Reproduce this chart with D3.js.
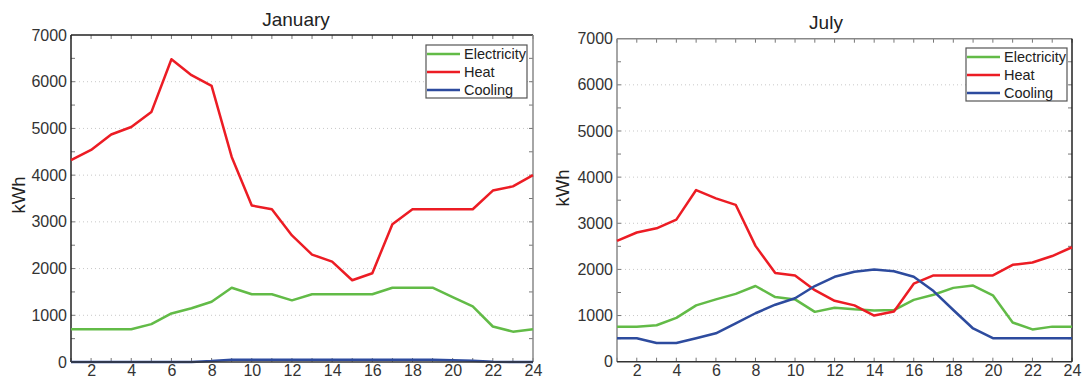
<!DOCTYPE html>
<html>
<head>
<meta charset="utf-8">
<script src="https://cdn.jsdelivr.net/npm/d3@7"></script>
<style>
  body { margin: 0; background: #fff; }
  svg { display: block; font-family: "Liberation Sans", Arial, sans-serif; }
</style>
</head>
<body>
<div id="chart"></div>
<script>
// hours of the day
const hours = d3.range(1, 25);
const xTicks = [2, 4, 6, 8, 10, 12, 14, 16, 18, 20, 22, 24];
const yTicks = [0, 1000, 2000, 3000, 4000, 5000, 6000, 7000];

// January (kWh)
const janElectricity = [700, 700, 700, 700, 810, 1040, 1150, 1290, 1590, 1450, 1450, 1320,
  1450, 1450, 1450, 1450, 1590, 1590, 1590, 1390, 1190, 760, 650, 700];
const janHeat = [4320, 4540, 4870, 5030, 5350, 6480, 6140, 5910, 4390, 3350, 3270, 2710,
  2300, 2150, 1750, 1900, 2950, 3270, 3270, 3270, 3270, 3670, 3760, 4000];
const janCooling = [0, 0, 0, 0, 0, 0, 0, 20, 50, 50, 50, 50,
  50, 50, 50, 50, 50, 50, 50, 40, 25, 5, 0, 0];

// July (kWh)
const julElectricity = [760, 760, 790, 950, 1220, 1350, 1470, 1640, 1400, 1350, 1080, 1170,
  1135, 1110, 1120, 1340, 1450, 1600, 1650, 1440, 850, 700, 760, 760];
const julHeat = [2620, 2800, 2890, 3080, 3720, 3540, 3400, 2510, 1920, 1870, 1550, 1320,
  1220, 1000, 1090, 1690, 1870, 1870, 1870, 1870, 2100, 2150, 2290, 2480];
const julCooling = [510, 510, 405, 405, 510, 615, 830, 1050, 1235, 1375, 1640, 1840,
  1950, 2000, 1960, 1840, 1530, 1120, 720, 510, 510, 510, 510, 510];

const seriesNames = ["Electricity", "Heat", "Cooling"];
const colors = { Electricity: "#62bb47", Heat: "#ec1c24", Cooling: "#2d4b9e" };

const svg = d3.select("#chart").append("svg")
  .attr("width", 1082)
  .attr("height", 381);

function drawPanel(cfg) {
  const x = d3.scaleLinear().domain([1, 24]).range([cfg.left, cfg.right]);
  const y = d3.scaleLinear().domain([0, 7000]).range([cfg.bottom, cfg.top]);
  const g = svg.append("g");

  // dotted grid
  g.selectAll("line.grid")
    .data(yTicks.filter(d => d > 0 && d < 7000))
    .enter().append("line")
    .attr("x1", cfg.left).attr("x2", cfg.right)
    .attr("y1", d => y(d)).attr("y2", d => y(d))
    .attr("stroke", "#c8c8c8")
    .attr("stroke-dasharray", "1,3");

  // minor inward ticks on all sides
  const minorY = d3.range(500, 7000, 500);
  g.selectAll("line.ty").data(minorY).enter().append("line")
    .attr("x1", cfg.right).attr("x2", cfg.right - 4)
    .attr("y1", d => y(d)).attr("y2", d => y(d))
    .attr("stroke", "#777");
  g.selectAll("line.tyl").data(minorY).enter().append("line")
    .attr("x1", cfg.left).attr("x2", cfg.left + 4)
    .attr("y1", d => y(d)).attr("y2", d => y(d))
    .attr("stroke", "#777");
  g.selectAll("line.tx").data(hours).enter().append("line")
    .attr("x1", d => x(d)).attr("x2", d => x(d))
    .attr("y1", cfg.top).attr("y2", cfg.top + 4)
    .attr("stroke", "#777");
  g.selectAll("line.txb").data(hours).enter().append("line")
    .attr("x1", d => x(d)).attr("x2", d => x(d))
    .attr("y1", cfg.bottom).attr("y2", cfg.bottom - 4)
    .attr("stroke", "#777");

  // frame
  g.append("line").attr("x1", cfg.left).attr("x2", cfg.right)
    .attr("y1", cfg.top).attr("y2", cfg.top)
    .attr("stroke", cfg.topColor).attr("stroke-width", 1.5);
  g.append("line").attr("x1", cfg.right).attr("x2", cfg.right)
    .attr("y1", cfg.top).attr("y2", cfg.bottom)
    .attr("stroke", cfg.rightColor).attr("stroke-width", 1.5);
  g.append("line").attr("x1", cfg.left).attr("x2", cfg.left)
    .attr("y1", cfg.top).attr("y2", cfg.bottom)
    .attr("stroke", cfg.leftColor).attr("stroke-width", 1.5);

  // series
  const line = d3.line().x((d, i) => x(hours[i])).y(d => y(d));
  cfg.series.forEach((vals, i) => {
    g.append("path")
      .datum(vals)
      .attr("d", line)
      .attr("fill", "none")
      .attr("stroke", colors[seriesNames[i]])
      .attr("stroke-width", 2.5)
      .attr("stroke-linejoin", "round");
  });

  // bottom axis line drawn over the series
  g.append("line").attr("x1", cfg.left).attr("x2", cfg.right)
    .attr("y1", cfg.bottom).attr("y2", cfg.bottom)
    .attr("stroke", "#333").attr("stroke-width", 1.5);

  // axes (labels only)
  const yAxis = g.append("g")
    .attr("transform", `translate(${cfg.left},0)`)
    .call(d3.axisLeft(y).tickValues(yTicks).tickSize(0).tickPadding(4).tickFormat(d3.format("d")));
  yAxis.select(".domain").remove();
  yAxis.selectAll("text").attr("font-size", 16).attr("fill", "#333")
    .attr("font-family", "Liberation Sans, Arial, sans-serif");

  const xAxis = g.append("g")
    .attr("transform", `translate(0,${cfg.bottom})`)
    .call(d3.axisBottom(x).tickValues(xTicks).tickSize(0).tickPadding(3).tickFormat(d3.format("d")));
  xAxis.select(".domain").remove();
  xAxis.selectAll("text").attr("font-size", 16).attr("fill", "#333")
    .attr("font-family", "Liberation Sans, Arial, sans-serif");

  // title
  g.append("text")
    .attr("x", cfg.titleX).attr("y", cfg.titleY)
    .attr("text-anchor", "middle")
    .attr("font-size", 19).attr("fill", "#222")
    .text(cfg.title);

  // y label
  g.append("text")
    .attr("transform", `translate(${cfg.ylabelX},${cfg.ylabelY}) rotate(-90)`)
    .attr("text-anchor", "middle")
    .attr("font-size", 18.5).attr("fill", "#222")
    .text("kWh");

  // legend
  const lg = g.append("g").attr("transform", `translate(${cfg.legendX},${cfg.legendY})`);
  lg.append("rect")
    .attr("width", 101).attr("height", 53)
    .attr("fill", "#fff").attr("stroke", "#555").attr("stroke-width", 1.2);
  seriesNames.forEach((name, i) => {
    const ry = 9 + i * 18;
    lg.append("line")
      .attr("x1", 1).attr("x2", 34).attr("y1", ry).attr("y2", ry)
      .attr("stroke", colors[name]).attr("stroke-width", 2.5);
    lg.append("text")
      .attr("x", 38).attr("y", ry)
      .attr("dy", "0.35em")
      .attr("font-size", 14.5).attr("fill", "#222")
      .text(name);
  });
}

drawPanel({
  title: "January", titleX: 296, titleY: 26,
  left: 71, right: 533, top: 35, bottom: 362,
  ylabelX: 25, ylabelY: 195,
  leftColor: "#222", topColor: "#222", rightColor: "#888",
  legendX: 426, legendY: 45,
  series: [janElectricity, janHeat, janCooling]
});

drawPanel({
  title: "July", titleX: 826, titleY: 29,
  left: 617, right: 1072, top: 38.7, bottom: 361.7,
  ylabelX: 568.5, ylabelY: 188,
  leftColor: "#888", topColor: "#888", rightColor: "#222",
  legendX: 966, legendY: 48,
  series: [julElectricity, julHeat, julCooling]
});
</script>
</body>
</html>
